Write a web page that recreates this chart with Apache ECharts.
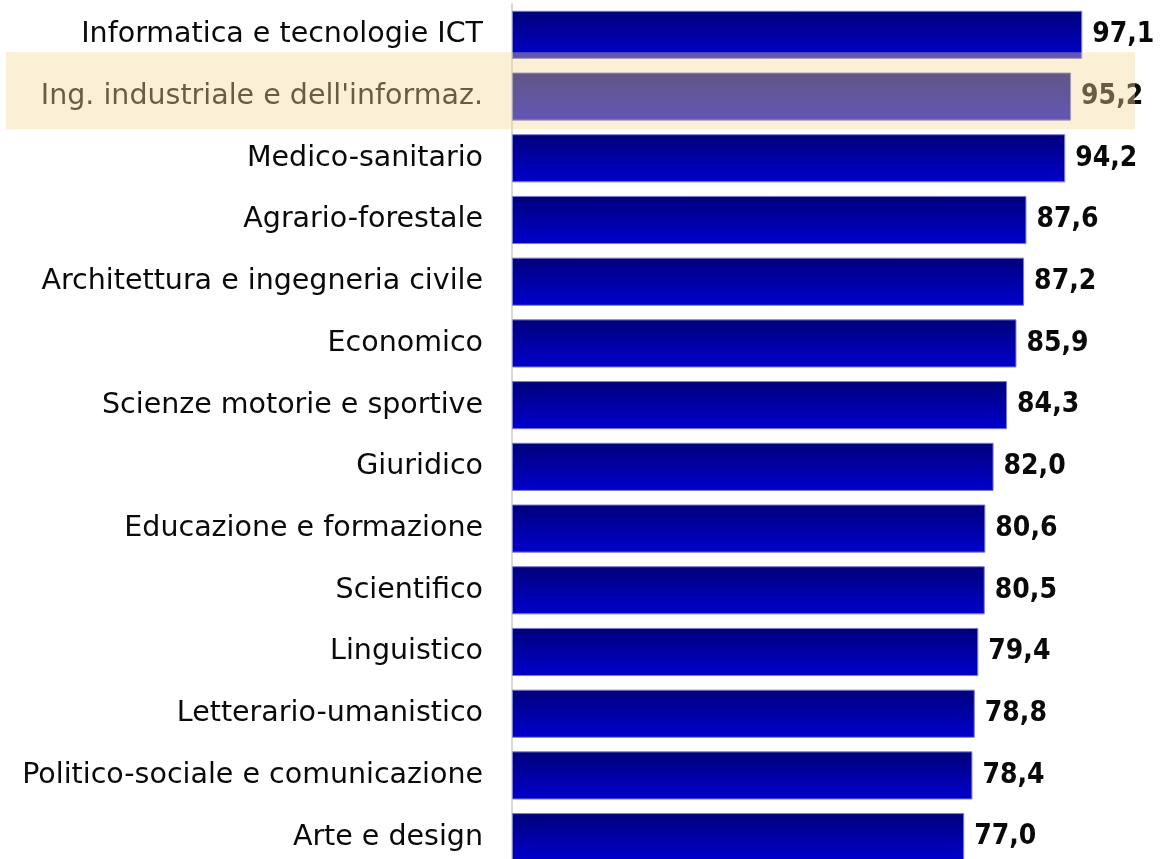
<!DOCTYPE html>
<html>
<head>
<meta charset="utf-8">
<script src="https://cdn.jsdelivr.net/npm/echarts@6/dist/echarts.min.js"></script>
<style>
  html, body { margin: 0; padding: 0; background: #fff; }
  #chart { width: 1163px; height: 859px; }
</style>
</head>
<body>
<div id="chart"></div>
<script>
// categories top to bottom
var categories = [
  'Informatica e tecnologie ICT',
  "Ing. industriale e dell'informaz.",
  'Medico-sanitario',
  'Agrario-forestale',
  'Architettura e ingegneria civile',
  'Economico',
  'Scienze motorie e sportive',
  'Giuridico',
  'Educazione e formazione',
  'Scientifico',
  'Linguistico',
  'Letterario-umanistico',
  'Politico-sociale e comunicazione',
  'Arte e design'
]
var values = [97.1, 95.2, 94.2, 87.6, 87.2, 85.9, 84.3, 82.0, 80.6, 80.5, 79.4, 78.8, 78.4, 77.0]
var highlighted = "Ing. industriale e dell'informaz."

var chart = echarts.init(document.getElementById('chart'))

var option = {
  animation: false,
  grid: {
    left: 512,
    top: 4,
    width: 646,
    height: 864,
    outerBoundsMode: 'none'
  },
  xAxis: {
    type: 'value',
    min: 0,
    max: 110,
    show: false
  },
  yAxis: {
    type: 'category',
    inverse: true,
    data: categories,
    axisTick: { show: false },
    axisLine: { show: true, lineStyle: { color: '#d9d9d9', width: 2 } },
    axisLabel: {
      margin: 29,
      color: '#0a0a0a',
      fontFamily: 'DejaVu Sans',
      fontSize: 28.5
    }
  },
  series: [{
    type: 'bar',
    data: values,
    barCategoryGap: '22%',
    itemStyle: {
      color: new echarts.graphic.LinearGradient(0, 0, 0, 1, [
        { offset: 0, color: '#00007a' },
        { offset: 1, color: '#0000cf' }
      ]),
      borderColor: '#7b7bd0',
      borderWidth: 1
    },
    label: {
      show: true,
      position: 'right',
      distance: 10,
      color: '#0a0a0a',
      fontFamily: 'DejaVu Sans Condensed',
      fontWeight: 'bold',
      fontSize: 28,
      formatter: function (p) { return p.value.toFixed(1).replace('.', ',') }
    }
  }]
}
chart.setOption(option)

// translucent highlight band over one row
var yc = chart.convertToPixel({ yAxisIndex: 0 }, highlighted)
var step = chart.convertToPixel({ yAxisIndex: 0 }, categories[2]) - yc
chart.setOption({
  graphic: [{
    type: 'rect',
    z: 100,
    shape: { x: 6, y: yc - step * 0.72, width: 1129, height: step * 1.25 },
    style: { fill: 'rgba(245,215,150,0.4)' },
    silent: true
  }]
})
</script>
</body>
</html>
